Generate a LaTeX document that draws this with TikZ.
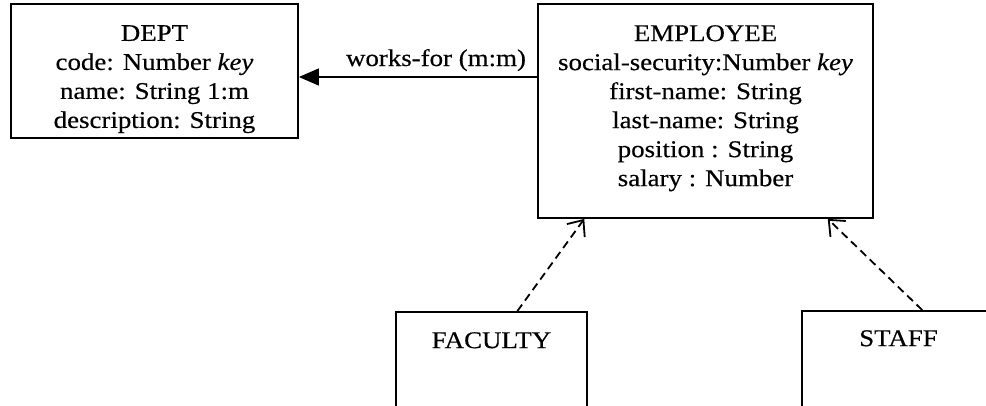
\documentclass[tikz,border=0pt]{standalone}
\usepackage{fontspec}
\setmainfont{Liberation Serif}[FakeStretch=1.12,FakeBold=0.4]
\usetikzlibrary{arrows.meta,calc}
\tikzset{
  umlbox/.style={draw=black, line width=1.8pt, fill=none, inner sep=0pt},
  boxtext/.style={anchor=north, inner sep=0pt, align=center,
    font=\fontsize{24pt}{29pt}\selectfont},
  assoc/.style={line width=1.6pt, -{Triangle[length=20pt,width=17pt]}},
  inherit/.style={line width=1.8pt, dash pattern=on 8pt off 5pt,
    -{Straight Barb[length=13pt,width=22pt,line width=1.8pt]}},
}
\begin{document}
\begin{tikzpicture}[x=1pt,y=-1pt]
\useasboundingbox (0,0) rectangle (986,405);
\clip (0,0) rectangle (986,405);
\fill[white] (0,0) rectangle (986,405);
% boxes
\node[umlbox, minimum width=287pt, minimum height=134pt] (dept) at (154.5,71) {};
\node[umlbox, minimum width=335pt, minimum height=214pt] (emp) at (705.5,111) {};
\node[umlbox, minimum width=191pt, minimum height=120pt] (fac) at (491.5,372) {};
\node[umlbox, minimum width=193pt, minimum height=120pt] (staff) at (898.5,371) {};
% texts
\node[boxtext] (deptT) at (154.5,25) {DEPT\\code: Number \textit{key}\\name: String 1:m\\description: String};
\node[boxtext] (empT) at (705.5,25) {EMPLOYEE\\social-security:Number \textit{key}\\first-name: String\\last-name: String\\position : String\\salary : Number};
\node[boxtext] (facT) at (491.5,332) {FACULTY};
\node[boxtext] (staffT) at (898.5,330) {STAFF};
% connectors
\draw[assoc] (emp.west |- 0,77) coordinate (wa) -- (dept.east |- wa);
\node[anchor=base, inner sep=0pt, font=\fontsize{24pt}{29pt}\selectfont] (wf) at (436,66) {works-for (m:m)};
\draw[inherit] ($(fac.north west)!0.634!(fac.north east)$) -- ($(emp.south west)!0.14!(emp.south east)$);
\draw[inherit] ($(staff.north west)!0.622!(staff.north east)$) -- ($(emp.south west)!0.863!(emp.south east)$);
\end{tikzpicture}
\end{document}
